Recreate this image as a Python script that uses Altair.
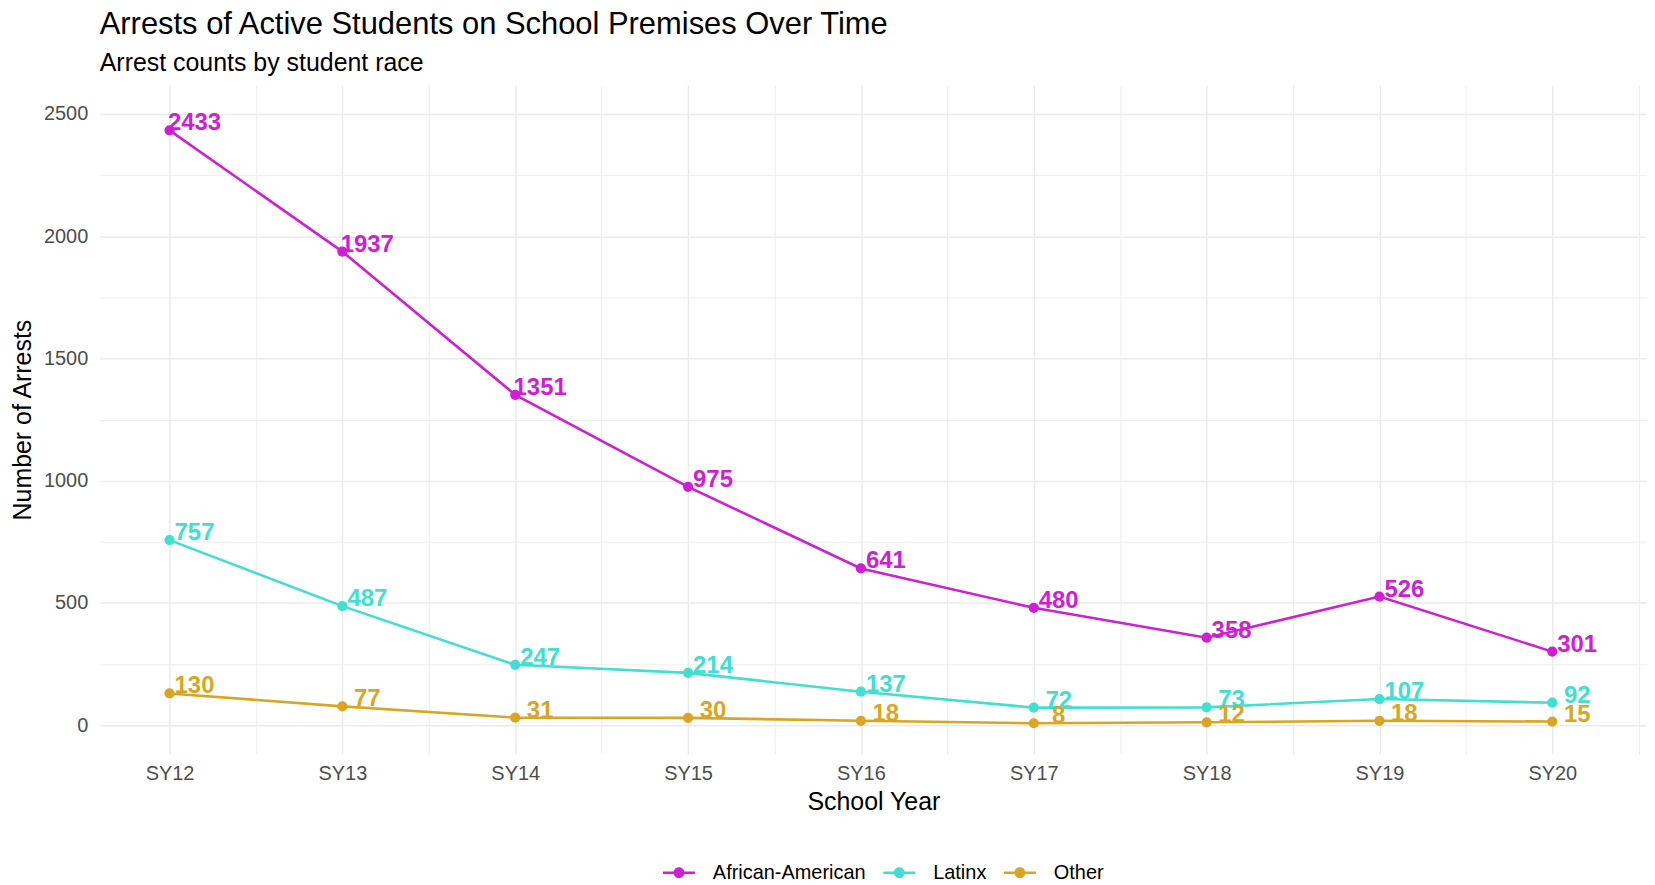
import altair as alt
import pandas as pd

years = ["SY12", "SY13", "SY14", "SY15", "SY16", "SY17", "SY18", "SY19", "SY20"]
races = ["African-American", "Latinx", "Other"]
african_american = [2433, 1937, 1351, 975, 641, 480, 358, 526, 301]
latinx = [757, 487, 247, 214, 137, 72, 73, 107, 92]
other = [130, 77, 31, 30, 18, 8, 12, 18, 15]
colors = ["#CF1ED4", "#40E0D0", "#DAA520"]

rows = []
for race, vals in zip(races, [african_american, latinx, other]):
    for i, (yr, v) in enumerate(zip(years, vals)):
        rows.append({"idx": i, "year": yr, "race": race, "arrests": v})
df = pd.DataFrame(rows)

FONT = "Liberation Sans"
label_expr = "[" + ",".join(f"'{y}'" for y in years) + "][datum.value] || ''"

x_enc = alt.X(
    "idx:Q",
    scale=alt.Scale(domain=[-0.404, 8.548], nice=False, zero=False),
    axis=alt.Axis(
        title="School Year",
        values=[k / 2 for k in range(0, 18)],
        labelExpr=label_expr,
        grid=True,
        gridColor="#EBEBEB",
        gridWidth={"condition": {"test": "datum.value % 1 === 0", "value": 1.5}, "value": 0.9},
        ticks=False,
        tickSize=0,
        domain=False,
        labelPadding=10,
        labelFontSize=20,
        labelColor="#4D4D4D",
        labelFont=FONT,
        titleFont=FONT,
        titleFontSize=25,
        titleFontWeight="normal",
        titleColor="#000000",
        titlePadding=6,
    ),
)
y_enc = alt.Y(
    "arrests:Q",
    scale=alt.Scale(domain=[-118, 2618], nice=False, zero=False),
    axis=alt.Axis(
        title="Number of Arrests",
        values=list(range(0, 2501, 250)),
        labelExpr="datum.value % 500 === 0 ? datum.label : ''",
        format="d",
        grid=True,
        gridColor="#EBEBEB",
        gridWidth={"condition": {"test": "datum.value % 500 === 0", "value": 1.5}, "value": 0.9},
        ticks=False,
        tickSize=0,
        domain=False,
        labelPadding=12,
        labelFontSize=20,
        labelColor="#4D4D4D",
        labelFont=FONT,
        titleFont=FONT,
        titleFontSize=25,
        titleFontWeight="normal",
        titleColor="#000000",
        titlePadding=8,
    ),
)

symbol_path = (
    "M-1,-0.08H-0.3V0.08H-1Z M0.3,-0.08H1V0.08H0.3Z "
    "M0.34,0A0.34,0.34,0,1,1,-0.34,0A0.34,0.34,0,1,1,0.34,0Z"
)

color_enc = alt.Color(
    "race:N",
    scale=alt.Scale(domain=races, range=colors),
    legend=alt.Legend(
        title=None,
        orient="none",
        direction="horizontal",
        legendX=565,
        legendY=774,
        symbolType=symbol_path,
        symbolSize=1024,
        symbolStrokeWidth=0,
        symbolOpacity=1,
        labelFont=FONT,
        labelFontSize=20,
        labelColor="#000000",
        labelOffset=18,
        columnPadding=17,
        padding=0,
    ),
)

base = alt.Chart(df)

lines = base.mark_line(strokeWidth=2.6).encode(
    x=x_enc, y=y_enc, color=color_enc, detail="race:N",
)
points = base.mark_point(filled=True, size=105, opacity=1).encode(
    x=x_enc, y=y_enc, color=color_enc,
)
labels = base.mark_text(
    align="center", baseline="alphabetic", dx=25, dy=0,
    fontSize=24, fontWeight="bold", font=FONT,
).encode(
    x=x_enc, y=y_enc, text="arrests:Q", color=color_enc,
)

chart = alt.layer(lines, points, labels).properties(
    width=1552,
    height=671,
    autosize=alt.AutoSizeParams(type="none"),
    padding={"left": 92, "top": 76, "right": 0, "bottom": 128},
    background="white",
    title=alt.TitleParams(
        text="Arrests of Active Students on School Premises Over Time",
        subtitle="Arrest counts by student race",
        anchor="start",
        frame="group",
        font=FONT,
        subtitleFont=FONT,
        fontSize=31,
        subtitleFontSize=25,
        fontWeight="normal",
        color="#000000",
        subtitleColor="#000000",
        offset=8,
        subtitlePadding=10,
    ),
).configure_view(stroke=None)

chart.save("out.html", embed_options={"renderer": "svg", "actions": False})
